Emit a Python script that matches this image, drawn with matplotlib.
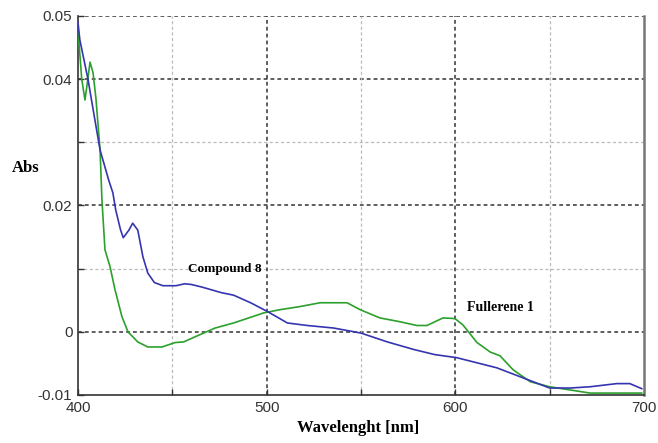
import numpy as np
import matplotlib
matplotlib.use('Agg')
import matplotlib.pyplot as plt

# Compound 8 (blue)
wl_compound = [400, 401, 405.3, 409, 411.7, 416.3, 418.5, 420, 422.6, 424, 427, 429,
               431.7, 434.4, 437, 440.5, 445, 452, 456.5, 460, 465.5, 476, 482.5,
               491.5, 500.5, 511, 521.6, 535.5, 550, 564, 578, 589, 600.8, 622, 636,
               650, 660.8, 671.4, 685.6, 692.5, 698.8]
abs_compound = [0.0490, 0.0462, 0.0400, 0.0335, 0.0288, 0.0240, 0.0220, 0.0193, 0.0161,
                0.0149, 0.0161, 0.0172, 0.0161, 0.0119, 0.0093, 0.0078, 0.0073, 0.0073,
                0.0076, 0.0075, 0.0071, 0.0062, 0.0058, 0.0046, 0.0032, 0.0014, 0.0010,
                0.0006, -0.0002, -0.0016, -0.0028, -0.0036, -0.0041, -0.0057, -0.0073,
                -0.0089, -0.0089, -0.0087, -0.0082, -0.0082, -0.0090]

# Fullerene 1 (green)
wl_fullerene = [400, 402, 403.7, 405, 406.4, 408, 409.5, 411.7, 412.7, 414.3, 417, 419.6,
                423.3, 426.5, 431.7, 437, 444.5, 451.5, 456, 462, 472.7, 482.5, 498.5,
                507, 517.7, 528.3, 542.6, 549.6, 560, 570.6, 579.6, 585, 593.5, 599.8,
                604, 611.5, 618.5, 623.7, 630.6, 639.7, 650, 660.8, 671.4, 698.8]
abs_fullerene = [0.0478, 0.0400, 0.0367, 0.0395, 0.0427, 0.0410, 0.0370, 0.0288, 0.0209,
                 0.0130, 0.0103, 0.0067, 0.0024, 0.0000, -0.0016, -0.0024, -0.0024,
                 -0.0017, -0.0016, -0.0008, 0.0006, 0.0014, 0.0030, 0.0035, 0.0040,
                 0.0046, 0.0046, 0.0035, 0.0022, 0.0016, 0.0010, 0.0010, 0.0022, 0.0021,
                 0.0011, -0.0017, -0.0032, -0.0038, -0.0060, -0.0079, -0.0087, -0.0092,
                 -0.0097, -0.0097]

y_ticks = [0.05, 0.04, 0.03, 0.02, 0.01, 0.0, -0.01]
y_labels = ['0.05', '0.04', '', '0.02', '', '0', '-0.01']
x_ticks = [400, 450, 500, 550, 600, 650, 700]
x_labels = ['400', '', '500', '', '600', '', '700']

fig = plt.figure(figsize=(6.58, 4.43), dpi=100)
ax = fig.add_axes([0.1185, 0.1084, 0.8602, 0.8555])

# grid: dark dashes at labelled values, light ones in between
for y in [0.05, 0.04, 0.02, 0.0]:
    ax.axhline(y, color='#333333', lw=1.1, ls=(0, (2.5, 2)), zorder=1)
for y in [0.03, 0.01]:
    ax.axhline(y, color='#bbbbbb', lw=0.9, ls=(0, (2.5, 2)), zorder=1)
for x in [500, 600]:
    ax.axvline(x, color='#333333', lw=1.1, ls=(0, (2.5, 2)), zorder=1)
for x in [450, 550, 650]:
    ax.axvline(x, color='#bbbbbb', lw=0.9, ls=(0, (2.5, 2)), zorder=1)

ax.plot(wl_fullerene, abs_fullerene, color='#2ca02c', lw=1.2, zorder=3)
ax.plot(wl_compound, abs_compound, color='#3535b0', lw=1.2, zorder=4)

ax.set_xlim(400, 700)
ax.set_ylim(-0.01, 0.05)
ax.set_xticks(x_ticks)
ax.set_xticklabels(x_labels)
ax.set_yticks(y_ticks)
ax.set_yticklabels(y_labels)
ax.tick_params(direction='in', length=4, width=1, color='#333333',
               labelsize=11, labelcolor='#333333', pad=4)
for lab in ax.get_xticklabels() + ax.get_yticklabels():
    lab.set_family('Liberation Sans')

ax.spines['top'].set_visible(False)
ax.spines['left'].set_color('#333333')
ax.spines['bottom'].set_color('#333333')
ax.spines['left'].set_linewidth(1.2)
ax.spines['bottom'].set_linewidth(1.2)
ax.spines['right'].set_color('#777777')
ax.spines['right'].set_linewidth(1.8)

serif = 'Liberation Serif'
fig.text(0.018, 0.62, 'Abs', fontsize=12, fontweight='bold', family=serif,
         va='center', ha='left')
fig.text(0.545, 0.015, 'Wavelenght [nm]', fontsize=12, fontweight='bold',
         family=serif, ha='center', va='bottom')
ax.text(458.3, 0.0100, 'Compound 8', fontsize=9.5, fontweight='bold', family=serif,
        va='center', ha='left')
ax.text(606.1, 0.0038, 'Fullerene 1', fontsize=10, fontweight='bold', family=serif,
        va='center', ha='left')

fig.savefig('out.png', dpi=100)
